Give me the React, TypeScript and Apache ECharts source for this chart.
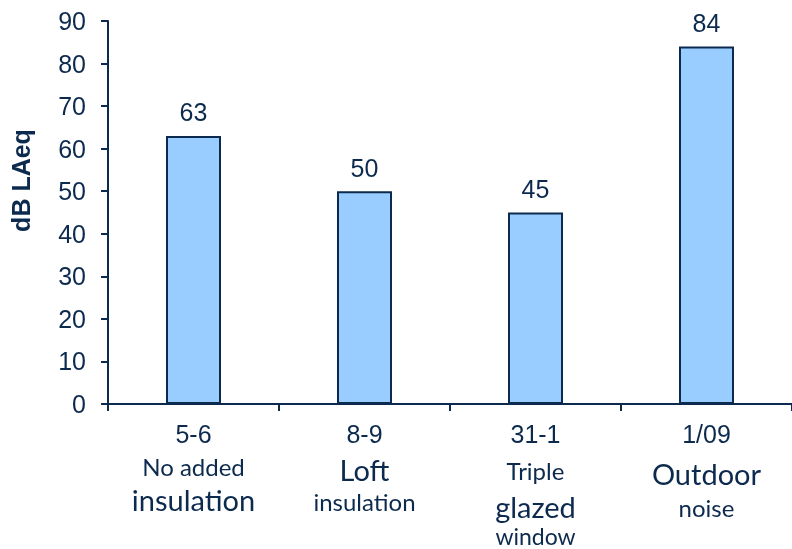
import React, { useEffect, useRef } from "react";
import * as echarts from "echarts";

const categories = ["5-6", "8-9", "31-1", "1/09"];
const descriptions = [
  ["No added", "insulation"],
  ["Loft", "insulation"],
  ["Triple", "glazed", "window"],
  ["Outdoor", "noise"],
];
const values = [63, 50, 45, 84];
const yTicks = { min: 0, max: 90, interval: 10 };
const yAxisTitle = "dB LAeq";

const INK = "#0c2a4e";
const CAL = "Lato, 'Open Sans', sans-serif";
const ARIAL = "'Liberation Sans', Arial, sans-serif";

// per-line style: [fontSize, lineHeight]
const lineStyles: [number, number][][] = [
  [[24, 32], [29, 34]],
  [[29, 38], [24, 26]],
  [[24, 40], [29, 32], [23, 28]],
  [[29, 46], [24, 22]],
];

export default function App() {
  const ref = useRef<HTMLDivElement>(null);
  useEffect(() => {
    if (!ref.current) return;
    const chart = echarts.init(ref.current, undefined, { renderer: "svg" });
    const rich: Record<string, any> = {
      num: { fontFamily: ARIAL, fontSize: 25, lineHeight: 32, color: INK },
    };
    lineStyles.forEach((col, i) =>
      col.forEach(([fs, lh], j) => {
        rich[`c${i}l${j}`] = { fontFamily: CAL, fontSize: fs, lineHeight: lh, color: INK };
      })
    );
    chart.setOption({
      animation: false,
      grid: { left: 106, right: 0, top: 21, bottom: 145, containLabel: false },
      xAxis: {
        type: "category",
        data: categories,
        axisLine: { lineStyle: { color: INK, width: 2 } },
        axisTick: { show: true, length: 7, lineStyle: { color: INK, width: 2 } },
        axisLabel: {
          margin: 14,
          interval: 0,
          formatter: (v: string, idx: number) => {
            const lines = [`{num|${v}}`];
            (descriptions[idx] || []).forEach((t, j) => lines.push(`{c${idx}l${j}|${t}}`));
            return lines.join("\n");
          },
          rich,
        },
      },
      yAxis: {
        type: "value",
        min: yTicks.min,
        max: yTicks.max,
        interval: yTicks.interval,
        name: yAxisTitle,
        nameLocation: "middle",
        nameGap: 75,
        nameTextStyle: {
          fontFamily: ARIAL,
          fontWeight: "bold",
          fontSize: 25,
          color: INK,
          padding: [0, 0, 0, 64],
        },
        axisLine: { show: true, lineStyle: { color: INK, width: 2 } },
        axisTick: { show: true, length: 7, lineStyle: { color: INK, width: 2 } },
        axisLabel: { fontFamily: ARIAL, fontSize: 25, color: INK, margin: 22 },
        splitLine: { show: false },
      },
      series: [
        {
          type: "bar",
          data: values,
          barWidth: 55,
          itemStyle: { color: "#99ccff", borderColor: INK, borderWidth: 2 },
          label: {
            show: true,
            position: "top",
            distance: 11,
            fontFamily: ARIAL,
            fontSize: 25,
            color: INK,
          },
        },
      ],
    });
    return () => chart.dispose();
  }, []);
  return (
    <div
      ref={ref}
      style={{ position: "fixed", left: 0, top: 0, width: 792, height: 549 }}
    />
  );
}
